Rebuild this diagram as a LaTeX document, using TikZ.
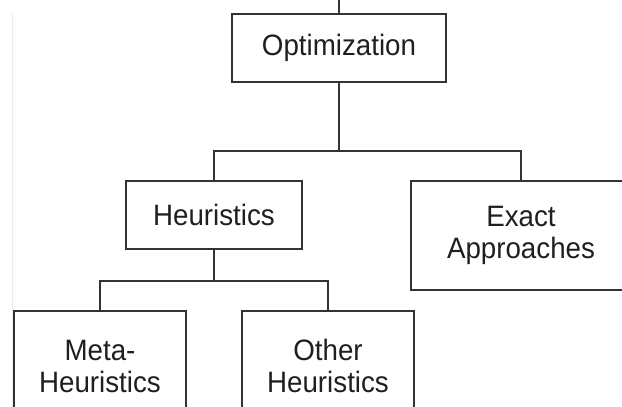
\documentclass[tikz,border=0pt]{standalone}
\usepackage{fontspec}
\setmainfont{Liberation Sans}[FakeStretch=0.94]
\usepackage{tikz}
\usetikzlibrary{positioning}

\begin{document}
\begin{tikzpicture}[
    x=1pt, y=-1pt,
    font=\fontsize{29.5}{32}\selectfont,
    treebox/.style={draw=black!80, line width=2.4pt, align=center, inner sep=4pt, text=black!88},
    treeline/.style={draw=black!80, line width=2.4pt}
]
\clip (0,0) rectangle (622,407);

% faint edge on the left
\draw[gray!15, line width=1pt] (12,14) -- (12,407);

\node[treebox, minimum width=214pt, minimum height=68pt] (opt) at (339,48) {Optimization};

\node[treebox, minimum width=176pt, minimum height=68pt] (heur) at (214,215) {Heuristics};
\node[treebox, minimum width=220pt, minimum height=109pt] (exact) at (521,235.5) {Exact\\Approaches};

\node[treebox, minimum width=172pt, minimum height=110pt] (meta) at (100,366) {Meta-\\Heuristics};
\node[treebox, minimum width=172pt, minimum height=110pt] (other) at (328,366) {Other\\Heuristics};

\coordinate (top) at (339,0);
\coordinate (j1) at (339,151);
\coordinate (j2) at (214,281);

\draw[treeline] (top) -- (opt.north);
\draw[treeline] (opt.south) -- (j1);
\draw[treeline] (heur.north) |- (j1) -| (exact.north);
\draw[treeline] (heur.south) -- (j2);
\draw[treeline] (meta.north) |- (j2) -| (other.north);

\end{tikzpicture}
\end{document}
